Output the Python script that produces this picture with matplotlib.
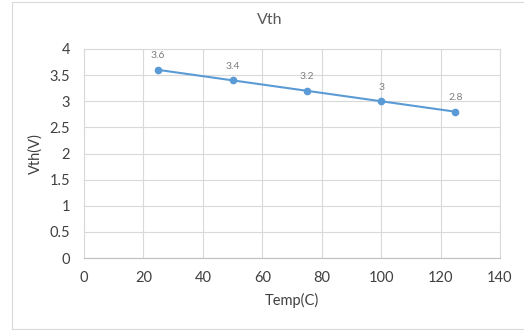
import matplotlib
matplotlib.use('Agg')
import matplotlib.pyplot as plt
from matplotlib.patches import Rectangle

# data
temps = [25, 50, 75, 100, 125]
vth = [3.6, 3.4, 3.2, 3.0, 2.8]
x_ticks = [0, 20, 40, 60, 80, 100, 120, 140]
y_ticks = [0, 0.5, 1, 1.5, 2, 2.5, 3, 3.5, 4]

plt.rcParams['font.family'] = ['Lato', 'DejaVu Sans']

W, H = 524, 330
fig = plt.figure(figsize=(W / 100, H / 100), dpi=100)

# outer chart border
fig.patches.append(Rectangle((12 / W, 1 / H), 1.1, (327 / H), transform=fig.transFigure,
                             fill=False, edgecolor='#d9d9d9', linewidth=0.8))

# plot area: x 84..500, y 49..258 (pixels from top)
ax = fig.add_axes([84 / W, 1 - 258 / H, (500 - 84) / W, (258 - 49) / H])

ax.plot(temps, vth, color='#5b9bd5', linewidth=1.5, marker='o', markersize=4.5, zorder=3)

for t, v in zip(temps, vth):
    ax.annotate(f'{v:g}', (t, v), xytext=(0, 7), textcoords='offset points',
                ha='center', va='bottom', fontsize=7.5, color='#7f7f7f')

ax.set_xlim(0, 140)
ax.set_ylim(0, 4)
ax.set_xticks(x_ticks)
ax.set_yticks(y_ticks)
ax.set_xticklabels([f'{t:g}' for t in x_ticks])
ax.set_yticklabels([f'{t:g}' for t in y_ticks])
ax.tick_params(axis='both', length=0, labelsize=10.5, colors='#404040', pad=9)
ax.tick_params(axis='y', pad=10)

ax.grid(True, color='#d9d9d9', linewidth=0.8)
ax.set_axisbelow(True)
for s in ax.spines.values():
    s.set_color('#d9d9d9')
    s.set_linewidth(0.8)
ax.spines['bottom'].set_color('#bfbfbf')

ax.set_xlabel('Temp(C)', fontsize=10.5, color='#404040', labelpad=6)
ax.set_ylabel('Vth(V)', fontsize=10.5, color='#404040', labelpad=5)

fig.text(270 / W, 1 - 20 / H, 'Vth', ha='center', va='center', fontsize=11.5, color='#595959')

fig.savefig('out.png', dpi=100)
